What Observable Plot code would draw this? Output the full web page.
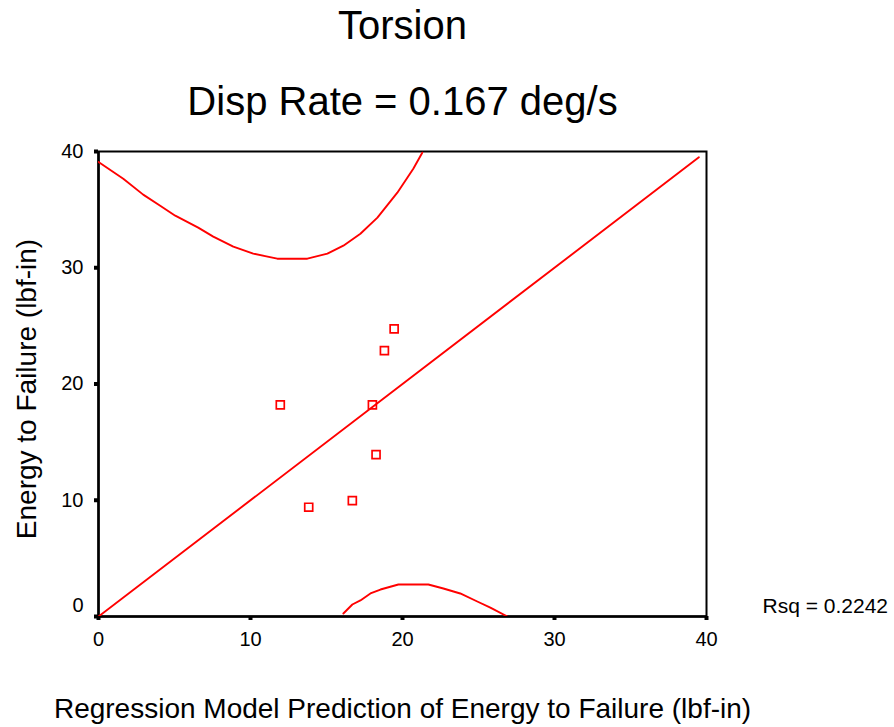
<!DOCTYPE html>
<html>
<head>
<meta charset="utf-8">
<script src="https://cdn.jsdelivr.net/npm/d3@7"></script>
<script src="https://cdn.jsdelivr.net/npm/@observablehq/plot@0.6"></script>
<style>
  html, body { margin: 0; padding: 0; background: #fff; }
  #chart svg { display: block; }
</style>
</head>
<body>
<div id="chart"></div>
<script>
// Observed data points
const pointX = [11.96, 13.83, 16.70, 18.02, 18.26, 18.81, 19.45];
const pointY = [18.2, 9.4, 9.97, 18.2, 13.93, 22.87, 24.74];

// Fit line
const fitX = [0, 39.5];
const fitY = [0, 39.5];

// Upper prediction interval curve
const upperX = [0, 1.63, 2.94, 4.06, 5.05, 6.56, 7.55, 8.87, 10.18, 11.76, 13.74, 15.06, 16.11, 17.23, 18.35, 19.66, 20.71, 21.3];
const upperY = [39.1, 37.66, 36.29, 35.34, 34.48, 33.45, 32.68, 31.82, 31.21, 30.78, 30.78, 31.21, 31.9, 32.93, 34.31, 36.46, 38.52, 39.9];

// Lower prediction interval curve
const lowerX = [16.11, 16.7, 17.23, 17.89, 18.55, 19.73, 21.7, 22.69, 23.8, 24.92, 25.78, 26.9];
const lowerY = [0.26, 1.03, 1.38, 1.98, 2.32, 2.75, 2.75, 2.41, 1.98, 1.29, 0.77, 0];

const ticks = [0, 10, 20, 30, 40];
const yTicksZero = [0];

const title = "Torsion";
const subtitle = "Disp Rate = 0.167 deg/s";
const xLabel = "Regression Model Prediction of Energy to Failure (lbf-in)";
const yLabel = "Energy to Failure (lbf-in)";
const rsqLabel = "Rsq = 0.2242";

const points = pointX.map((x, i) => ({x, y: pointY[i]}));
const fit = fitX.map((x, i) => ({x, y: fitY[i]}));
const upper = upperX.map((x, i) => ({x, y: upperY[i]}));
const lower = lowerX.map((x, i) => ({x, y: lowerY[i]}));

const RED = "#ff0000";
const FONT = "'Liberation Sans', Arial, Helvetica, sans-serif";

const chart = Plot.plot({
  width: 894,
  height: 727,
  marginLeft: 98,
  marginRight: 188,
  marginTop: 151,
  marginBottom: 111,
  style: {fontFamily: FONT, background: "#fff", color: "#000"},
  x: {domain: [0, 40]},
  y: {domain: [0, 40]},
  marks: [
    Plot.frame({stroke: "#000", strokeWidth: 2}),
    Plot.ruleX([0], {stroke: "#000", strokeWidth: 2.5}),
    Plot.ruleY([0], {stroke: "#000", strokeWidth: 2.5}),
    Plot.axisX({ticks, tickSize: 4, strokeWidth: 4, tickPadding: 11, fontSize: 20, label: null, tickFormat: d => String(d)}),
    Plot.axisY({ticks, tickSize: 4, strokeWidth: 4, tickPadding: 11, fontSize: 20, label: null, tickFormat: d => d === 0 ? "" : String(d)}),
    Plot.axisY({ticks: yTicksZero, tickSize: 0, tickPadding: 15, fontSize: 20, label: null, dy: -11, tickFormat: d => String(d)}),
    Plot.line(fit, {x: "x", y: "y", stroke: RED, strokeWidth: 1.9, clip: true}),
    Plot.line(upper, {x: "x", y: "y", stroke: RED, strokeWidth: 1.9, clip: true}),
    Plot.line(lower, {x: "x", y: "y", stroke: RED, strokeWidth: 1.9, clip: true}),
    Plot.dot(points, {x: "x", y: "y", symbol: "square", r: 4.5, stroke: RED, strokeWidth: 1.7, fill: "none"}),
    Plot.text([title], {frameAnchor: "top", dy: -113, lineAnchor: "bottom", fontSize: 40, text: d => d}),
    Plot.text([subtitle], {frameAnchor: "top", dy: -37, lineAnchor: "bottom", fontSize: 40, text: d => d}),
    Plot.text([xLabel], {frameAnchor: "bottom", dy: 101, lineAnchor: "bottom", fontSize: 28, text: d => d}),
    Plot.text([yLabel], {frameAnchor: "left", dx: -63, dy: 5, rotate: -90, textAnchor: "middle", lineAnchor: "bottom", fontSize: 28, text: d => d}),
    Plot.text([rsqLabel], {frameAnchor: "bottom-right", dx: 56, dy: -4, textAnchor: "start", lineAnchor: "bottom", fontSize: 21, text: d => d})
  ]
});
document.getElementById("chart").appendChild(chart);
</script>
</body>
</html>
